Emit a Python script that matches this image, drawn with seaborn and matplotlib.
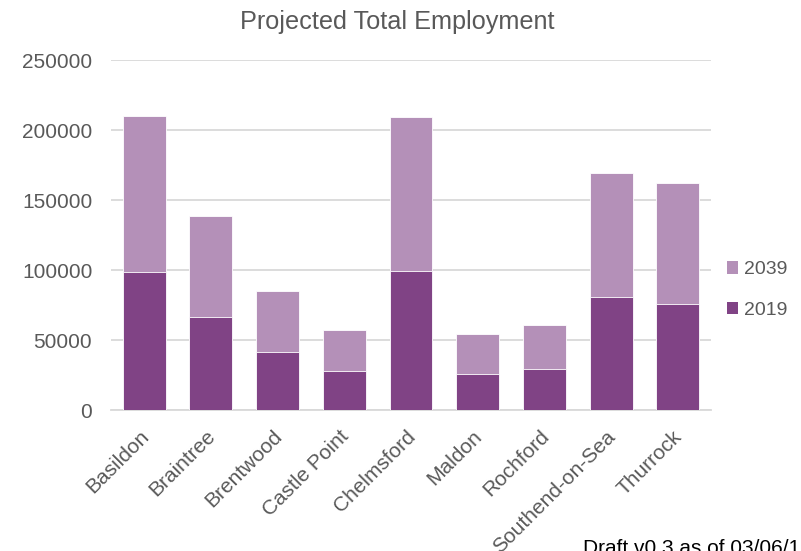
import matplotlib
matplotlib.use("Agg")
import matplotlib.pyplot as plt
from matplotlib.patches import Patch
from matplotlib.transforms import ScaledTranslation
import seaborn as sns
import pandas as pd

districts = ["Basildon", "Braintree", "Brentwood", "Castle Point", "Chelmsford",
             "Maldon", "Rochford", "Southend-on-Sea", "Thurrock"]
emp_2019 = [98400, 66400, 41200, 28100, 99000, 26000, 29500, 81000, 76000]
emp_2039 = [111800, 72200, 43800, 29300, 110000, 28500, 31200, 88500, 86100]
y_ticks = [0, 50000, 100000, 150000, 200000, 250000]

dark = "#804385"
light = "#B490B8"
text_col = "#595959"
grid_col = "#D9D9D9"

df = pd.DataFrame({"district": districts, "y2019": emp_2019, "y2039": emp_2039})
df["stack_top"] = df["y2019"] + df["y2039"]

sns.set_theme(style="white")
plt.rcParams["font.family"] = ["Liberation Sans", "DejaVu Sans"]

fig = plt.figure(figsize=(8.01, 5.51), dpi=100)
ax = fig.add_axes([111 / 801, 1 - 410 / 551, 600 / 801, 350 / 551])

sns.barplot(data=df, x="district", y="stack_top", color=light, saturation=1,
            width=0.645, edgecolor="white", linewidth=0.6, ax=ax, zorder=3)
sns.barplot(data=df, x="district", y="y2019", color=dark, saturation=1,
            width=0.645, edgecolor="white", linewidth=0.6, ax=ax, zorder=4)

ax.set_xlim(-0.5, len(districts) - 0.5)
ax.set_ylim(0, 250000)
ax.set_yticks(y_ticks)
ax.set_yticklabels([str(v) for v in y_ticks])
ax.set_xlabel("")
ax.set_ylabel("")
ax.yaxis.grid(True, color=grid_col, linewidth=1.3, zorder=0)
ax.set_axisbelow(True)
for side in ["top", "right", "left"]:
    ax.spines[side].set_visible(False)
ax.spines["bottom"].set_color(grid_col)
ax.spines["bottom"].set_linewidth(1.3)
ax.tick_params(axis="both", length=0, colors=text_col, labelsize=15)
ax.tick_params(axis="y", pad=13.5)
ax.tick_params(axis="x", pad=12)
shift = ScaledTranslation(-5 / 100, 0, fig.dpi_scale_trans)
for lbl in ax.get_xticklabels():
    lbl.set_rotation(45)
    lbl.set_ha("right")
    lbl.set_va("top")
    lbl.set_rotation_mode("anchor")
    lbl.set_color(text_col)
    lbl.set_transform(lbl.get_transform() + shift)

fig.text(397 / 801, 1 - 22 / 551, "Projected Total Employment", ha="center",
         va="center", fontsize=18.2, color=text_col)

handles = [Patch(facecolor=light, edgecolor="none"),
           Patch(facecolor=dark, edgecolor="none")]
fig.legend(handles, ["2039", "2019"], loc="center left",
           bbox_to_anchor=(709 / 801, 1 - 290 / 551), frameon=False,
           fontsize=14, labelcolor=text_col, handlelength=0.6,
           handleheight=0.6, handletextpad=0.3, labelspacing=1.2)

fig.text(583 / 801, 1 - 539 / 551, "Draft v0.3 as of 03/06/19", ha="left",
         va="top", fontsize=15, color="black")

fig.savefig("out.png", dpi=100)
